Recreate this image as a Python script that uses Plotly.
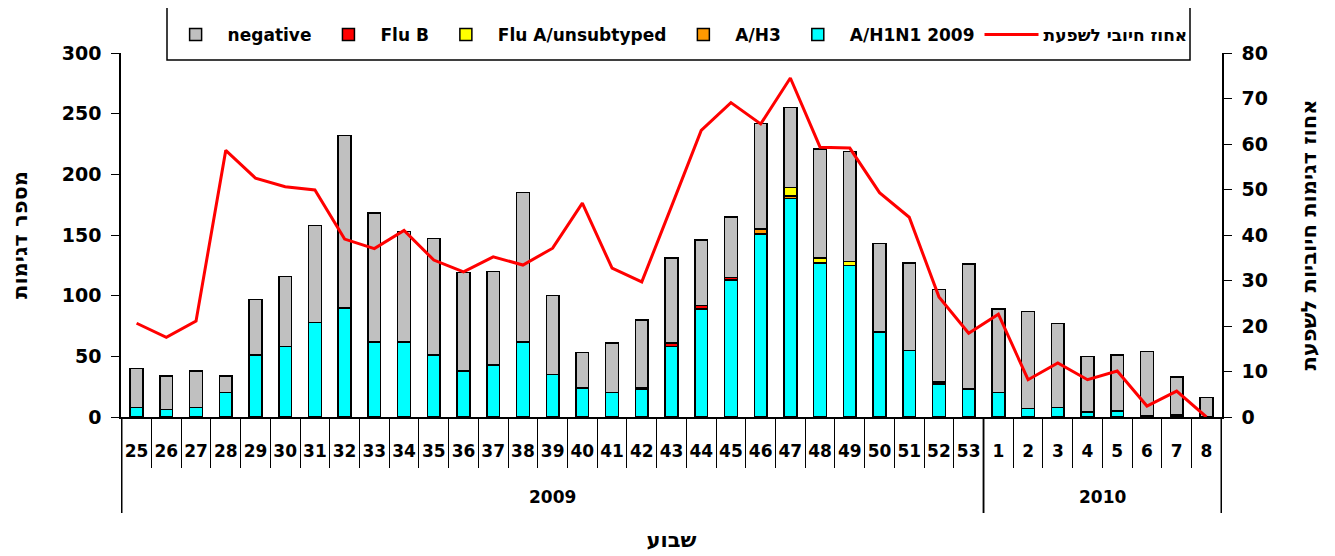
import plotly.graph_objects as go

# weeks (2009: 25-53, 2010: 1-8)
years = ["2009"] * 29 + ["2010"] * 8
weeks = [str(w) for w in range(25, 54)] + [str(w) for w in range(1, 9)]

h1n1 = [8, 6, 8, 20, 51, 58, 78, 90, 62, 62, 51, 38, 43, 62, 35, 24, 20, 23, 58, 89,
        113, 151, 180, 127, 125, 70, 55, 27, 23, 20, 7, 8, 4, 5, 1, 1, 0]
h3 = [0] * 21 + [4, 2] + [0] * 14
flu_a = [0] * 22 + [7, 4, 3] + [0] * 12
flu_b = [0] * 17 + [1, 3, 3, 2] + [0] * 6 + [2] + [0] * 7 + [1, 0, 0]
negative = [32, 28, 30, 14, 46, 58, 80, 142, 106, 91, 96, 81, 77, 123, 65, 29, 41, 56, 70, 54,
            50, 87, 66, 90, 91, 73, 72, 76, 103, 69, 80, 69, 46, 46, 53, 31, 16]
pct_positive = [20.6, 17.5, 21.1, 58.6, 52.5, 50.6, 49.9, 39.1, 37.0, 41.0, 34.5, 31.9, 35.2,
                33.4, 37.1, 47.0, 32.7, 29.7, 46.3, 63.0, 69.1, 64.4, 74.5, 59.3, 59.1, 49.3,
                43.9, 26.4, 18.4, 22.6, 8.2, 11.9, 8.2, 10.1, 2.4, 5.7, 0.0]

FONT = "DejaVu Sans, Arial, sans-serif"
PLOT_H = 364  # plot area height in px, used for paper offsets below the axis

series = [
    ("A/H1N1 2009", h1n1, "#00FFFF", 5),
    ("A/H3", h3, "#FF9900", 4),
    ("Flu A/unsubtyped", flu_a, "#FFFF00", 3),
    ("Flu B", flu_b, "#FF0000", 2),
    ("negative", negative, "#C0C0C0", 1),
]

fig = go.Figure()
for name, vals, color, rank in series:
    fig.add_trace(go.Bar(
        x=weeks, y=vals, name=name, legendrank=rank,
        marker=dict(color=color, line=dict(color="black", width=1.5)),
    ))

fig.add_trace(go.Scatter(
    x=weeks, y=pct_positive, name="אחוז חיובי לשפעת", legendrank=6,
    mode="lines", line=dict(color="#FF0000", width=3), yaxis="y2",
))

# year groups: label in the middle, divider lines at the group edges
shapes = []
annotations = []
start = 0
for i in range(1, len(years) + 1):
    if i == len(years) or years[i] != years[start]:
        annotations.append(dict(
            x=(start + i - 1) / 2, xref="x", y=-(497 - 417) / PLOT_H, yref="paper",
            text=years[start], showarrow=False, yanchor="middle",
            font=dict(size=17, family=FONT, weight="bold"),
        ))
        for edge in (start - 0.5, i - 0.5):
            shapes.append(dict(type="line", xref="x", yref="paper",
                               x0=edge, x1=edge, y0=0, y1=-(513 - 417) / PLOT_H,
                               line=dict(color="black", width=1.5)))
        start = i

# legend frame
shapes.append(dict(type="rect", xref="paper", yref="paper",
                   x0=(167 - 121) / 1101, x1=(1190 - 121) / 1101,
                   y0=1 + (53 - 60) / PLOT_H, y1=1 + (53 - 7) / PLOT_H,
                   line=dict(color="black", width=1.5), fillcolor="rgba(0,0,0,0)"))

# page body adds an 8px margin, so the figure is 8px smaller and shifted
fig.update_layout(
    width=1327, height=548,
    margin=dict(l=113, r=113, t=45, b=139, autoexpand=False),
    paper_bgcolor="white", plot_bgcolor="white",
    barmode="stack", bargap=0.57,
    font=dict(family=FONT, color="black"),
    showlegend=True,
    legend=dict(
        orientation="h", traceorder="normal",
        x=0.506, xanchor="center", y=1 + (53 - 35) / PLOT_H, yanchor="middle",
        font=dict(size=17, family=FONT, weight="bold"),
        bgcolor="rgba(0,0,0,0)", itemwidth=54,
    ),
    xaxis=dict(
        type="category",
        showline=True, linecolor="black", linewidth=1.5,
        ticks="outside", tickson="boundaries", ticklen=49, tickcolor="black",
        tickfont=dict(size=17, family=FONT, weight="bold"), tickangle=0,
        ticklabelstandoff=18,
        showgrid=False,
        title=dict(text="שבוע", font=dict(size=21, family=FONT, weight="bold"), standoff=72),
    ),
    yaxis=dict(
        range=[0, 300], dtick=50,
        showline=True, linecolor="black", linewidth=1.5,
        ticks="outside", ticklen=8, tickcolor="black",
        tickfont=dict(size=19, family=FONT, weight="bold"), ticklabelstandoff=6,
        showgrid=False, zeroline=False,
        title=dict(text="מספר דגימות", font=dict(size=21, family=FONT, weight="bold"), standoff=28),
    ),
    yaxis2=dict(
        overlaying="y", side="right", range=[0, 80], dtick=10,
        showline=True, linecolor="black", linewidth=1.5,
        ticks="outside", ticklen=8, tickcolor="black",
        tickfont=dict(size=19, family=FONT, weight="bold"), ticklabelstandoff=6,
        showgrid=False, zeroline=False,
        title=dict(text="אחוז דגימות חיוביות לשפעת", font=dict(size=21, family=FONT, weight="bold"), standoff=34),
    ),
    shapes=shapes,
    annotations=annotations,
)

fig.write_html("out.html")
